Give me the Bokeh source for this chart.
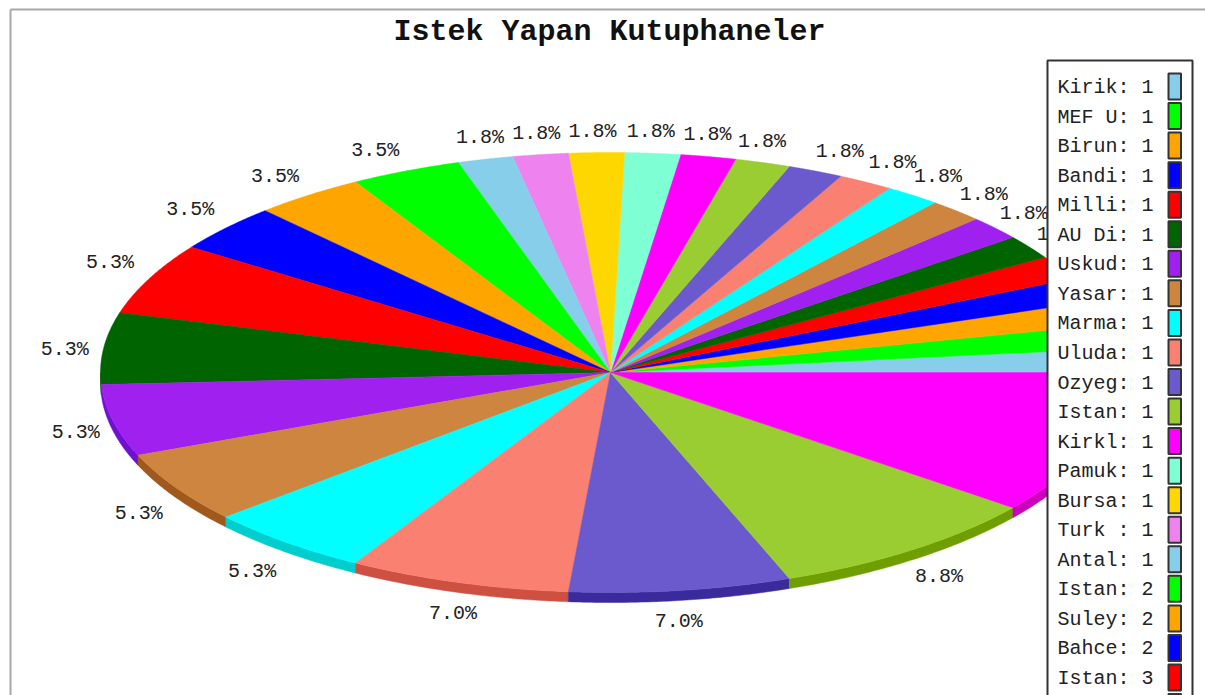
import numpy as np
from bokeh.plotting import figure
from bokeh.models import Range1d
from bokeh.core.properties import value
from bokeh.embed import file_html
from bokeh.resources import INLINE

title = "Istek Yapan Kutuphaneler"
names = ["Kirik", "MEF U", "Birun", "Bandi", "Milli", "AU Di", "Uskud", "Yasar", "Marma",
         "Uluda", "Ozyeg", "Istan", "Kirkl", "Pamuk", "Bursa", "Turk ", "Antal", "Istan",
         "Suley", "Bahce", "Istan"]
values = [1] * 17 + [2] * 3 + [3] * 5 + [4] * 2 + [5, 6]
palette = ["#87CEEB", "#00FF00", "#FFA500", "#0000FF", "#FF0000", "#006400", "#A020F0", "#CD853F",
           "#00FFFF", "#FA8072", "#6A5ACD", "#9ACD32", "#FF00FF", "#7FFFD4", "#FFD700", "#EE82EE"]
side = ["#5FA5C0", "#00C800", "#CC8000", "#0000B0", "#C00000", "#004000", "#7010D0", "#A0581C",
        "#00CDCD", "#CD5040", "#3A2A9C", "#6E9E00", "#CC00BB", "#55CCA8", "#C8A800", "#C060C0"]
# small placement corrections of the percentage labels, slice by slice, in pixels
label_nudge_x = [0, 0, 0, 0, 0, 0, 0, 2, 3, 8, 9, -12, -8, -5, -3, 1, 4, -15, -11, -7,
                 -5, -1, 0, -5, -10, 6, -7, 4, 0]
label_nudge_y = [0, 0, 0, 0, 0, 0, 0, 0, -1, 0, 1, 0, 0, 0, 1, 1, 0, 0, -1, -4,
                 -7, 4, -3, 4, 2, 0, -1, -1, 0]

CX, CY, RX, RY, DEPTH = 610, 372, 510, 220, 10
FONT = "Liberation Mono"

p = figure(width=1205, height=695, x_range=Range1d(0, 1205), y_range=Range1d(695, 0),
           output_backend="svg", toolbar_location=None, min_border=0,
           background_fill_color="white", border_fill_color="white", outline_line_color=None)
p.axis.visible = False
p.grid.visible = False

# frame
p.line([10, 10], [695, 9], line_color="#a8a8a8", line_width=2)
p.line([10, 1205], [9, 9], line_color="#a8a8a8", line_width=2)

vals = np.array(values, dtype=float)
total = vals.sum()
edges = np.concatenate([[0], np.cumsum(vals)]) / total * 2 * np.pi
cols = [palette[i % len(palette)] for i in range(len(vals))]
sides = [side[i % len(side)] for i in range(len(vals))]

sx, sy, sc = [], [], []
fx, fy, lx, ly, lt = [], [], [], [], []
for i, v in enumerate(vals):
    a0, a1 = edges[i], edges[i + 1]
    t = np.linspace(a0, a1, 60)
    ax, ay = CX + RX * np.cos(t), CY - RY * np.sin(t)
    fx.append(np.concatenate([[CX], ax]).tolist())
    fy.append(np.concatenate([[CY], ay]).tolist())
    s0, s1 = max(a0, np.pi), a1
    if s1 > np.pi:
        u = np.linspace(s0, s1, 60)
        bx, by = CX + RX * np.cos(u), CY - RY * np.sin(u)
        sx.append(np.concatenate([bx, bx[::-1]]).tolist())
        sy.append(np.concatenate([by, by[::-1] + DEPTH]).tolist())
        sc.append(sides[i])
    mid = (a0 + a1) / 2
    lx.append(CX + (RX + 38) * np.cos(mid) + label_nudge_x[i])
    ly.append(CY - (RY + 22) * np.sin(mid) + (DEPTH if np.sin(mid) < 0 else 0) + label_nudge_y[i])
    lt.append(f"{v / total * 100:.1f}%")

p.patches(sx, sy, fill_color=sc, line_color=sc, line_width=0.5)
p.patches(fx, fy, fill_color=cols, line_color=cols, line_width=0.5)
p.text(lx, ly, text=lt, text_font=value(FONT), text_font_size="20px", text_color="#222222",
       text_align="center", text_baseline="middle")

# title
p.text([609], [31], text=[title], text_font=value(FONT), text_font_size="30px", text_font_style="bold",
       text_color="#111111", text_align="center", text_baseline="middle")

# legend
LX0, LX1, LY0 = 1047, 1192, 60
ROW0, ROWH = 87, 29.55
p.quad(left=[LX0], right=[LX1], top=[LY0], bottom=[760], fill_color="white",
       line_color="#333333", line_width=2)
rows = np.arange(len(vals))
p.quad(left=1168, right=1180.5, top=ROW0 - 1 + rows * ROWH - 13, bottom=ROW0 - 1 + rows * ROWH + 13,
       fill_color=cols, line_color="#333333", line_width=2)
p.text([1057] * len(names), [ROW0 + i * ROWH for i in range(len(names))],
       text=[f"{n}: {int(values[i])}" for i, n in enumerate(names)],
       text_font=value(FONT), text_font_size="20px", text_color="#222222",
       text_align="left", text_baseline="middle")

open("out.html", "w").write(file_html(p, INLINE))
